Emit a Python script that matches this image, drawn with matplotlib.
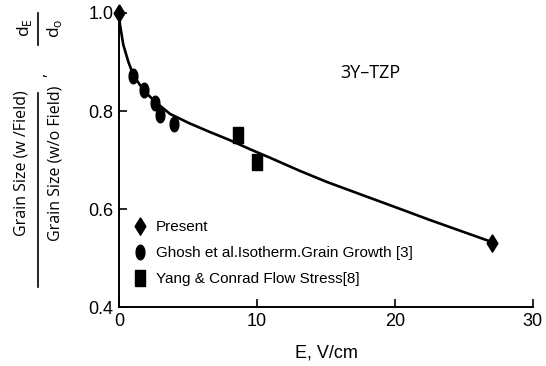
import numpy as np
import matplotlib
matplotlib.use("Agg")
import matplotlib.pyplot as plt
from matplotlib.lines import Line2D

plt.rcParams['font.family'] = ['Liberation Sans', 'DejaVu Sans']
plt.rcParams['mathtext.fontset'] = 'custom'
plt.rcParams['mathtext.rm'] = 'Open Sans'

# data
present_e = [0, 27]
present_d = [1.0, 0.53]

ghosh_e = [1.0, 1.8, 2.6, 3.0, 4.0]
ghosh_d = [0.871, 0.843, 0.816, 0.792, 0.773]

yang_e = [8.6, 10.0]
yang_d = [0.751, 0.695]

fit_e = [0, 0.07, 0.31, 0.67, 1.04, 1.76, 2.61, 3.7, 5.1, 6.6, 8.0,
         9.5, 11.0, 13.1, 15.0, 17.5, 20.4, 22.5, 24.7, 27.0]
fit_d = [1.0, 0.976, 0.935, 0.901, 0.873, 0.843, 0.819, 0.794, 0.775, 0.757,
         0.741, 0.722, 0.704, 0.678, 0.656, 0.630, 0.600, 0.578, 0.556, 0.533]

# tall markers (the original figure is stretched vertically)
t = np.linspace(0, 2 * np.pi, 40)
ellipse = list(zip(0.6 * np.cos(t), np.sin(t)))
diamond = [(0, 1), (0.62, 0), (0, -1), (-0.62, 0), (0, 1)]
rect = [(-0.65, -1), (0.65, -1), (0.65, 1), (-0.65, 1), (-0.65, -1)]

W, H = 546, 366
fig = plt.figure(figsize=(W / 100, H / 100), dpi=100)
ax = fig.add_axes([0.218, 0.161, 0.758, 0.8035])

ax.plot(fit_e, fit_d, color='black', lw=1.9, zorder=2)
ax.plot(present_e, present_d, ls='none', marker=diamond, ms=12.5,
        color='black', label='Present', zorder=3, clip_on=False)
ax.plot(ghosh_e, ghosh_d, ls='none', marker=ellipse, ms=10.5,
        color='black', label='Ghosh et al.Isotherm.Grain Growth [3]', zorder=3)
ax.plot(yang_e, yang_d, ls='none', marker=rect, ms=11,
        color='black', label='Yang & Conrad Flow Stress[8]', zorder=3)

ax.set_xlim(0, 30)
ax.set_ylim(0.4, 1.0)
ax.set_xticks([0, 10, 20, 30])
ax.set_yticks([0.4, 0.6, 0.8, 1.0])
ax.set_yticklabels(['0.4', '0.6', '0.8', '1.0'])
ax.tick_params(direction='in', length=6, width=1.2, labelsize=13, pad=4)
for s in ['top', 'right']:
    ax.spines[s].set_visible(False)
for s in ['left', 'bottom']:
    ax.spines[s].set_linewidth(1.4)

ax.set_xlabel('E, V/cm', fontsize=13, labelpad=11)
ax.text(18.2, 0.877, '3Y\u2013TZP', fontsize=13, ha='center', va='center',
        family='Open Sans')

ax.legend(loc='center left', bbox_to_anchor=(0.0, 0.184), frameon=False,
          fontsize=11, handlelength=0.8, handletextpad=0.6,
          labelspacing=0.78, borderaxespad=0.6)

# y label built as a fraction: grain size ratio , d_E / d_o
lab = dict(rotation=90, ha='center', va='center', family='Open Sans',
           fontsize=11.5)
fig.text(22 / W, 1 - 163 / H, 'Grain Size (w /Field)', **lab)
fig.text(56 / W, 1 - 163 / H, 'Grain Size (w/o Field)', **lab)
fig.add_artist(Line2D([38 / W, 38 / W], [1 - 93 / H, 1 - 287 / H],
                      color='black', lw=1.2))
fig.text(41 / W, 1 - 75 / H, ',', **lab)
lab['fontsize'] = 12.5
fig.text(24 / W, 1 - 28 / H, r'd$_\mathrm{E}$', **lab)
fig.text(55 / W, 1 - 28 / H, r'd$_\mathrm{o}$', **lab)
fig.add_artist(Line2D([38 / W, 38 / W], [1 - 13 / H, 1 - 45 / H],
                      color='black', lw=1.2))

fig.savefig('out.png', dpi=100)
